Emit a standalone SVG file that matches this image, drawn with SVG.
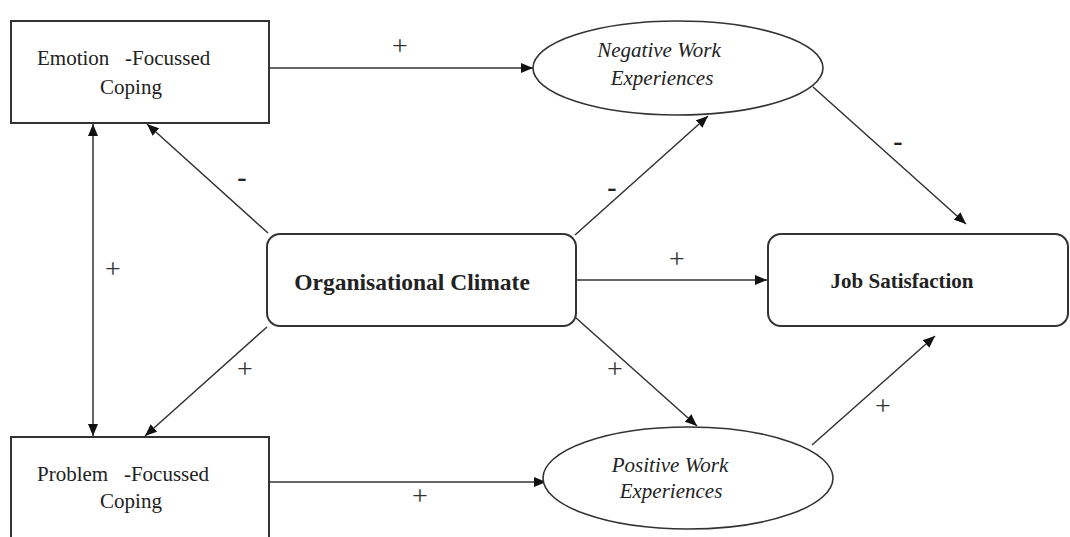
<svg xmlns="http://www.w3.org/2000/svg" width="1070" height="537" viewBox="0 0 1070 537">
<defs>
<marker id="ah" viewBox="0 0 12 10" refX="12" refY="5" markerWidth="12" markerHeight="10" markerUnits="userSpaceOnUse" orient="auto-start-reverse">
<path d="M0,0 L12,5 L0,10 Z" fill="#111"/>
</marker>
<style>
.box{fill:#fff;stroke:#333;stroke-width:2}
.ell{fill:#fff;stroke:#333;stroke-width:1.6}
.t{font-family:"Liberation Serif",serif;fill:#222}
.it{font-style:italic}
.b{font-weight:bold}
.c{stroke:#333;stroke-width:1.5;fill:none;marker-end:url(#ah)}
.lbl{font-family:"Liberation Serif",serif;fill:#333;font-size:28px;text-anchor:middle}
.mn{font-family:"Liberation Serif",serif;fill:#222;font-size:28px;font-weight:bold;text-anchor:middle}
</style>
</defs>
<rect width="1070" height="537" fill="#fff"/>
<g id="connectors">
<line class="c" x1="270" y1="68" x2="533" y2="68"/>
<line class="c" x1="813" y1="87" x2="966" y2="224"/>
<line class="c" x1="575" y1="235" x2="708" y2="116"/>
<line class="c" x1="268" y1="233" x2="147" y2="124"/>
<line class="c" x1="93" y1="124" x2="93" y2="436" style="marker-start:url(#ah)"/>
<line class="c" x1="576" y1="280" x2="767" y2="280"/>
<line class="c" x1="267" y1="327" x2="145" y2="436"/>
<line class="c" x1="575" y1="317" x2="697" y2="426"/>
<line class="c" x1="812" y1="445" x2="935" y2="336"/>
<line class="c" x1="270" y1="482" x2="546" y2="482"/>
<text class="lbl" x="400" y="55">+</text>
<text class="mn" x="898" y="150">-</text>
<text class="mn" x="612" y="196">-</text>
<text class="mn" x="242" y="186">-</text>
<text class="lbl" x="113" y="278">+</text>
<text class="lbl" x="677" y="268">+</text>
<text class="lbl" x="245" y="378">+</text>
<text class="lbl" x="615" y="378">+</text>
<text class="lbl" x="883" y="415">+</text>
<text class="lbl" x="420" y="505">+</text>
</g>
<g id="emotion">
<rect class="box" x="11" y="21" width="258" height="102"/>
<text class="t" font-size="21" x="37" y="65" xml:space="preserve">Emotion   -Focussed</text>
<text class="t" font-size="21" x="131" y="94" text-anchor="middle">Coping</text>
</g>
<g id="negative">
<ellipse class="ell" cx="678" cy="68" rx="145" ry="47"/>
<text class="t it" font-size="21" x="659" y="57" text-anchor="middle">Negative Work</text>
<text class="t it" font-size="21" x="662" y="85" text-anchor="middle">Experiences</text>
</g>
<g id="climate">
<rect class="box" x="267" y="234" width="309" height="92" rx="13"/>
<text class="t b" font-size="23.5" x="412" y="290" text-anchor="middle">Organisational Climate</text>
</g>
<g id="job">
<rect class="box" x="768" y="234" width="300" height="92" rx="13"/>
<text class="t b" font-size="21" x="902" y="288" text-anchor="middle">Job Satisfaction</text>
</g>
<g id="problem">
<rect class="box" x="11" y="437" width="258" height="120"/>
<text class="t" font-size="21" x="37" y="481" xml:space="preserve">Problem   -Focussed</text>
<text class="t" font-size="21" x="131" y="508" text-anchor="middle">Coping</text>
</g>
<g id="positive">
<ellipse class="ell" cx="688" cy="478" rx="145" ry="51"/>
<text class="t it" font-size="21" x="670" y="472" text-anchor="middle">Positive Work</text>
<text class="t it" font-size="21" x="671" y="498" text-anchor="middle">Experiences</text>
</g>
</svg>
